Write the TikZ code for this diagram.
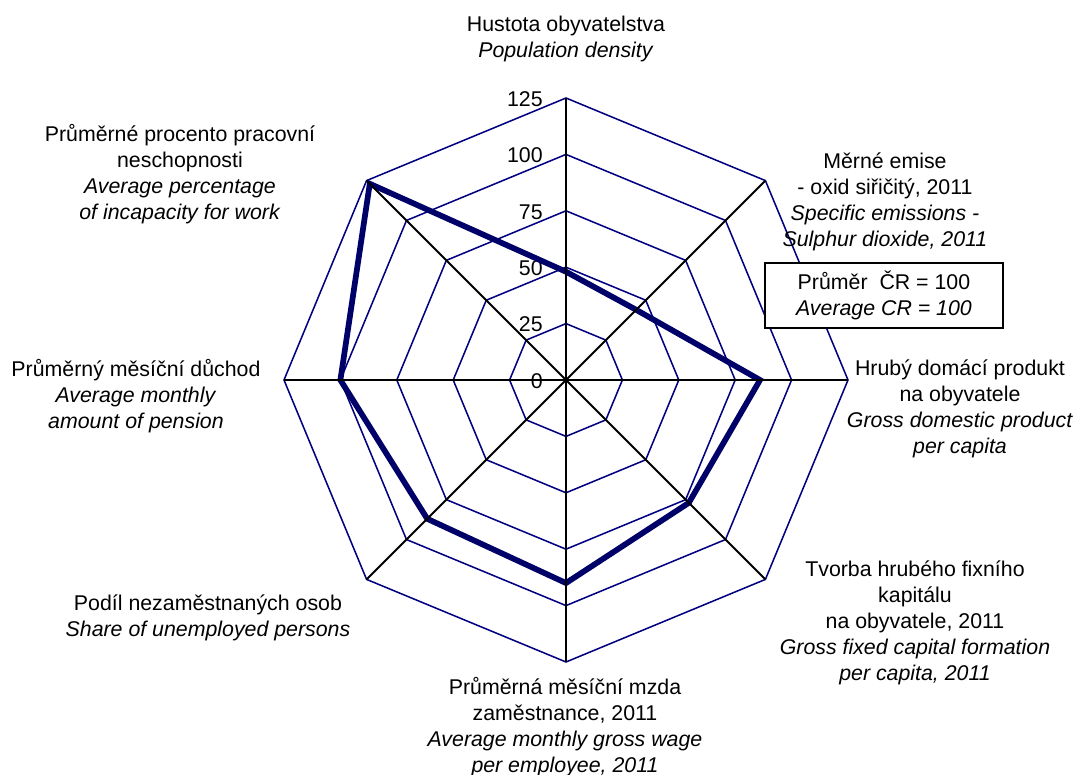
\documentclass[tikz,border=0pt]{standalone}
\usepackage{fontspec}
\setmainfont{Liberation Sans}
\usetikzlibrary{positioning}
\definecolor{gridblue}{RGB}{0,0,128}
\definecolor{datablue}{RGB}{0,0,105}

\begin{document}
\begin{tikzpicture}[x=0.75pt,y=0.75pt,
  lbl/.style={align=center,inner sep=0pt,font=\fontsize{16}{19.5}\selectfont},
  ringnum/.style={anchor=east,inner sep=0pt,font=\fontsize{16}{19.5}\selectfont},
  gridline/.style={gridblue,line width=1.15pt},
  axisline/.style={black,line width=1.4pt},
  dataline/.style={datablue,line width=4.3pt}]
\useasboundingbox (-566,-395) rectangle (510,380);
\pgfmathsetmacro{\unitr}{2.256}
\coordinate (c) at (0,0);
% rings 25 ... 125
\foreach \v in {25,50,...,125}{
  \pgfmathsetmacro{\ringr}{\v*\unitr}
  \draw[gridline] (90:\ringr) -- (45:\ringr) -- (0:\ringr) -- (-45:\ringr) -- (-90:\ringr) -- (-135:\ringr) -- (180:\ringr) -- (135:\ringr) -- cycle;
  \node[ringnum] (n\v) at (-23,\ringr-1) {\v};
}
\node[ringnum] (n0) at (-23,-1) {0};
% data
\foreach \val [count=\k from 0] in {48,44,86,77,90,87,100,123}
  \coordinate (d\k) at ({90-45*\k}:{\val*\unitr});
\draw[dataline] (d0) -- (d1) -- (d2) -- (d3) -- (d4) -- (d5) -- (d6) -- (d7) -- cycle;
% axes
\foreach \k in {0,...,7}{
  \coordinate (ax\k) at ({90-45*\k}:282);
  \draw[axisline] (c) -- (ax\k);
}
% labels
\node[lbl] (lpop) at (0,341) {Hustota obyvatelstva\\\textit{Population density}};
\node[lbl] (lemis) at (319,178) {Měrné emise\\- oxid siřičitý, 2011\\\textit{Specific emissions -}\\\textit{Sulphur dioxide, 2011}};
\node[lbl] (lgdp) at (394,-29) {Hrubý domácí produkt\\na obyvatele\\\textit{Gross domestic product}\\\textit{per capita}};
\node[lbl] (lcap) at (349,-243) {Tvorba hrubého fixního\\kapitálu\\na obyvatele, 2011\\\textit{Gross fixed capital formation}\\\textit{per capita, 2011}};
\node[lbl] (lwage) at (-1,-347) {Průměrná měsíční mzda\\zaměstnance, 2011\\\textit{Average monthly gross wage}\\\textit{per employee, 2011}};
\node[lbl] (lunemp) at (-358,-238) {Podíl nezaměstnaných osob\\\textit{Share of unemployed persons}};
\node[lbl] (lpens) at (-430,-16) {Průměrný měsíční důchod\\\textit{Average monthly}\\\textit{amount of pension}};
\node[lbl] (linc) at (-386,206) {Průměrné procento pracovní\\neschopnosti\\\textit{Average percentage}\\\textit{of incapacity for work}};
% legend
\node[lbl,draw=black,line width=1.1pt,fill=white,minimum width=178.5pt,minimum height=48.75pt] (legend) at (318,84.5) {Průměr~ ČR = 100\\\textit{Average CR = 100}};
\end{tikzpicture}
\end{document}
